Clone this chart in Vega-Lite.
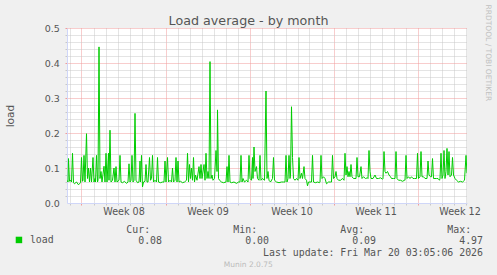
{
  "$schema": "https://vega.github.io/schema/vega-lite/v6.json",
  "width": 400,
  "height": 175,
  "autosize": "none",
  "padding": {"left": 67, "top": 28, "right": 30, "bottom": 72},
  "background": "#F0F0F0",
  "config": {
    "view": {"fill": "#FFFFFF", "stroke": null},
    "axis": {"labelFont": "DejaVu Sans", "titleFont": "DejaVu Sans", "labelColor": "#555555", "titleColor": "#555555", "titleFontWeight": "normal"}
  },
  "data": {"values": [
    {"h": -29, "v": 0.065}, {"h": -27, "v": 0.06}, {"h": -26, "v": 0.127}, {"h": -24, "v": 0.062}, {"h": -22, "v": 0.065},
    {"h": -20, "v": 0.06}, {"h": -18, "v": 0.142}, {"h": -16, "v": 0.058}, {"h": -14, "v": 0.055}, {"h": -10, "v": 0.06},
    {"h": -6, "v": 0.052}, {"h": -2, "v": 0.058}, {"h": 0, "v": 0.13}, {"h": 2, "v": 0.062}, {"h": 3, "v": 0.065},
    {"h": 5, "v": 0.136}, {"h": 7, "v": 0.06}, {"h": 10, "v": 0.198}, {"h": 12, "v": 0.07}, {"h": 14, "v": 0.1},
    {"h": 16, "v": 0.06}, {"h": 18, "v": 0.1}, {"h": 20, "v": 0.06}, {"h": 23, "v": 0.13}, {"h": 25, "v": 0.06},
    {"h": 27, "v": 0.07}, {"h": 28, "v": 0.06}, {"h": 30, "v": 0.136}, {"h": 32, "v": 0.06}, {"h": 33, "v": 0.065},
    {"h": 35, "v": 0.446}, {"h": 37, "v": 0.07}, {"h": 39, "v": 0.09}, {"h": 41, "v": 0.06}, {"h": 45, "v": 0.105},
    {"h": 47, "v": 0.06}, {"h": 49, "v": 0.142}, {"h": 51, "v": 0.06}, {"h": 54, "v": 0.142}, {"h": 55, "v": 0.065},
    {"h": 57, "v": 0.208}, {"h": 59, "v": 0.06}, {"h": 62, "v": 0.065}, {"h": 65, "v": 0.1}, {"h": 67, "v": 0.06},
    {"h": 69, "v": 0.104}, {"h": 71, "v": 0.06}, {"h": 75, "v": 0.065}, {"h": 77, "v": 0.136}, {"h": 79, "v": 0.06},
    {"h": 82, "v": 0.058}, {"h": 86, "v": 0.062}, {"h": 90, "v": 0.056}, {"h": 93, "v": 0.06}, {"h": 95, "v": 0.112},
    {"h": 97, "v": 0.06}, {"h": 99, "v": 0.065}, {"h": 101, "v": 0.136}, {"h": 103, "v": 0.06}, {"h": 105, "v": 0.065},
    {"h": 107, "v": 0.256}, {"h": 109, "v": 0.065}, {"h": 112, "v": 0.058}, {"h": 115, "v": 0.06}, {"h": 117, "v": 0.12},
    {"h": 118, "v": 0.06}, {"h": 120, "v": 0.136}, {"h": 122, "v": 0.046}, {"h": 124, "v": 0.06}, {"h": 127, "v": 0.062},
    {"h": 129, "v": 0.11}, {"h": 131, "v": 0.06}, {"h": 133, "v": 0.06}, {"h": 136, "v": 0.13}, {"h": 138, "v": 0.065},
    {"h": 140, "v": 0.07}, {"h": 142, "v": 0.136}, {"h": 144, "v": 0.06}, {"h": 147, "v": 0.065}, {"h": 150, "v": 0.06},
    {"h": 152, "v": 0.13}, {"h": 154, "v": 0.06}, {"h": 158, "v": 0.058}, {"h": 162, "v": 0.06}, {"h": 165, "v": 0.06},
    {"h": 167, "v": 0.12}, {"h": 169, "v": 0.06}, {"h": 172, "v": 0.13}, {"h": 174, "v": 0.06}, {"h": 177, "v": 0.065},
    {"h": 180, "v": 0.06}, {"h": 182, "v": 0.1}, {"h": 184, "v": 0.06}, {"h": 187, "v": 0.065}, {"h": 189, "v": 0.13},
    {"h": 191, "v": 0.06}, {"h": 193, "v": 0.12}, {"h": 195, "v": 0.06}, {"h": 198, "v": 0.062}, {"h": 202, "v": 0.058},
    {"h": 206, "v": 0.06}, {"h": 210, "v": 0.065}, {"h": 212, "v": 0.142}, {"h": 214, "v": 0.06}, {"h": 216, "v": 0.11},
    {"h": 218, "v": 0.07}, {"h": 220, "v": 0.1}, {"h": 222, "v": 0.065}, {"h": 224, "v": 0.13}, {"h": 226, "v": 0.06},
    {"h": 228, "v": 0.08}, {"h": 231, "v": 0.065}, {"h": 235, "v": 0.104}, {"h": 237, "v": 0.07}, {"h": 239, "v": 0.11},
    {"h": 241, "v": 0.07}, {"h": 245, "v": 0.11}, {"h": 247, "v": 0.065}, {"h": 249, "v": 0.142}, {"h": 251, "v": 0.07},
    {"h": 253, "v": 0.09}, {"h": 255, "v": 0.07}, {"h": 257, "v": 0.404}, {"h": 259, "v": 0.07}, {"h": 261, "v": 0.08},
    {"h": 263, "v": 0.065}, {"h": 266, "v": 0.07}, {"h": 269, "v": 0.15}, {"h": 271, "v": 0.09}, {"h": 272, "v": 0.266},
    {"h": 274, "v": 0.07}, {"h": 276, "v": 0.065}, {"h": 280, "v": 0.06}, {"h": 284, "v": 0.058}, {"h": 289, "v": 0.06},
    {"h": 291, "v": 0.104}, {"h": 293, "v": 0.06}, {"h": 295, "v": 0.136}, {"h": 297, "v": 0.06}, {"h": 300, "v": 0.058},
    {"h": 305, "v": 0.06}, {"h": 310, "v": 0.056}, {"h": 314, "v": 0.06}, {"h": 317, "v": 0.06}, {"h": 319, "v": 0.136},
    {"h": 321, "v": 0.06}, {"h": 323, "v": 0.07}, {"h": 326, "v": 0.06}, {"h": 330, "v": 0.065}, {"h": 333, "v": 0.06},
    {"h": 335, "v": 0.136}, {"h": 337, "v": 0.07}, {"h": 340, "v": 0.065}, {"h": 342, "v": 0.13}, {"h": 343, "v": 0.07},
    {"h": 345, "v": 0.16}, {"h": 347, "v": 0.09}, {"h": 350, "v": 0.104}, {"h": 352, "v": 0.07}, {"h": 355, "v": 0.065},
    {"h": 357, "v": 0.136}, {"h": 359, "v": 0.065}, {"h": 362, "v": 0.07}, {"h": 366, "v": 0.065}, {"h": 369, "v": 0.32},
    {"h": 371, "v": 0.07}, {"h": 373, "v": 0.09}, {"h": 375, "v": 0.065}, {"h": 378, "v": 0.06}, {"h": 382, "v": 0.07},
    {"h": 384, "v": 0.13}, {"h": 386, "v": 0.065}, {"h": 390, "v": 0.06}, {"h": 395, "v": 0.058}, {"h": 400, "v": 0.06},
    {"h": 404, "v": 0.06}, {"h": 407, "v": 0.06}, {"h": 409, "v": 0.136}, {"h": 411, "v": 0.06}, {"h": 413, "v": 0.07},
    {"h": 415, "v": 0.136}, {"h": 417, "v": 0.07}, {"h": 418, "v": 0.08}, {"h": 420, "v": 0.275}, {"h": 422, "v": 0.13},
    {"h": 424, "v": 0.07}, {"h": 427, "v": 0.065}, {"h": 430, "v": 0.07}, {"h": 433, "v": 0.065}, {"h": 435, "v": 0.13},
    {"h": 437, "v": 0.07}, {"h": 440, "v": 0.085}, {"h": 442, "v": 0.07}, {"h": 445, "v": 0.104}, {"h": 447, "v": 0.07},
    {"h": 450, "v": 0.065}, {"h": 452, "v": 0.049}, {"h": 454, "v": 0.06}, {"h": 457, "v": 0.06}, {"h": 460, "v": 0.06},
    {"h": 462, "v": 0.136}, {"h": 464, "v": 0.06}, {"h": 468, "v": 0.058}, {"h": 472, "v": 0.06}, {"h": 476, "v": 0.058},
    {"h": 477, "v": 0.06}, {"h": 479, "v": 0.136}, {"h": 481, "v": 0.07}, {"h": 484, "v": 0.075}, {"h": 487, "v": 0.07},
    {"h": 490, "v": 0.055}, {"h": 494, "v": 0.06}, {"h": 498, "v": 0.06}, {"h": 500, "v": 0.06}, {"h": 502, "v": 0.136},
    {"h": 504, "v": 0.07}, {"h": 507, "v": 0.075}, {"h": 509, "v": 0.09}, {"h": 511, "v": 0.07}, {"h": 514, "v": 0.065},
    {"h": 518, "v": 0.065}, {"h": 522, "v": 0.07}, {"h": 525, "v": 0.065}, {"h": 527, "v": 0.142}, {"h": 529, "v": 0.08},
    {"h": 531, "v": 0.104}, {"h": 533, "v": 0.075}, {"h": 535, "v": 0.09}, {"h": 537, "v": 0.075}, {"h": 539, "v": 0.11},
    {"h": 541, "v": 0.075}, {"h": 544, "v": 0.07}, {"h": 549, "v": 0.07}, {"h": 551, "v": 0.13}, {"h": 553, "v": 0.075},
    {"h": 556, "v": 0.075}, {"h": 559, "v": 0.104}, {"h": 561, "v": 0.07}, {"h": 564, "v": 0.075}, {"h": 568, "v": 0.07},
    {"h": 572, "v": 0.072}, {"h": 573, "v": 0.07}, {"h": 575, "v": 0.15}, {"h": 577, "v": 0.09}, {"h": 579, "v": 0.07},
    {"h": 583, "v": 0.07}, {"h": 587, "v": 0.08}, {"h": 590, "v": 0.07}, {"h": 594, "v": 0.07}, {"h": 598, "v": 0.072},
    {"h": 602, "v": 0.068}, {"h": 603, "v": 0.07}, {"h": 605, "v": 0.147}, {"h": 607, "v": 0.09}, {"h": 609, "v": 0.085},
    {"h": 612, "v": 0.09}, {"h": 615, "v": 0.08}, {"h": 618, "v": 0.075}, {"h": 620, "v": 0.07}, {"h": 624, "v": 0.07},
    {"h": 627, "v": 0.07}, {"h": 629, "v": 0.147}, {"h": 631, "v": 0.07}, {"h": 634, "v": 0.065}, {"h": 638, "v": 0.065},
    {"h": 642, "v": 0.062}, {"h": 646, "v": 0.065}, {"h": 647, "v": 0.065}, {"h": 649, "v": 0.136}, {"h": 651, "v": 0.07},
    {"h": 654, "v": 0.075}, {"h": 657, "v": 0.07}, {"h": 660, "v": 0.075}, {"h": 663, "v": 0.07}, {"h": 666, "v": 0.07},
    {"h": 670, "v": 0.07}, {"h": 672, "v": 0.142}, {"h": 674, "v": 0.07}, {"h": 677, "v": 0.075}, {"h": 679, "v": 0.147},
    {"h": 681, "v": 0.075}, {"h": 684, "v": 0.075}, {"h": 687, "v": 0.07}, {"h": 691, "v": 0.07}, {"h": 693, "v": 0.12},
    {"h": 695, "v": 0.08}, {"h": 698, "v": 0.075}, {"h": 700, "v": 0.075}, {"h": 702, "v": 0.127}, {"h": 704, "v": 0.07},
    {"h": 707, "v": 0.07}, {"h": 710, "v": 0.07}, {"h": 713, "v": 0.07}, {"h": 716, "v": 0.065}, {"h": 717, "v": 0.07},
    {"h": 719, "v": 0.142}, {"h": 721, "v": 0.07}, {"h": 723, "v": 0.08}, {"h": 725, "v": 0.15}, {"h": 727, "v": 0.07},
    {"h": 729, "v": 0.09}, {"h": 731, "v": 0.156}, {"h": 733, "v": 0.08}, {"h": 735, "v": 0.147}, {"h": 737, "v": 0.075},
    {"h": 740, "v": 0.08}, {"h": 742, "v": 0.13}, {"h": 744, "v": 0.08}, {"h": 747, "v": 0.07}, {"h": 750, "v": 0.065},
    {"h": 754, "v": 0.06}, {"h": 758, "v": 0.062}, {"h": 762, "v": 0.06}, {"h": 766, "v": 0.065}, {"h": 769, "v": 0.136},
    {"h": 771, "v": 0.085}
  ]},
  "resolve": {"axis": {"x": "independent", "y": "independent"}},
  "layer": [
    {
      "mark": {"type": "line", "strokeOpacity": 0},
      "encoding": {
        "x": {"field": "h", "type": "quantitative", "scale": {"domain": [-29, 771], "nice": false, "zero": false},
          "axis": {"orient": "bottom", "values": [-24,24,48,72,96,120,144,192,216,240,264,288,312,360,384,408,432,456,480,528,552,576,600,624,648,696,720,744,768],
            "grid": true, "gridColor": "#C8C8C8", "gridDash": [1, 1], "gridWidth": 1, "ticks": true, "tickSize": 2, "tickColor": "#C8C8C8",
            "labels": false, "domain": false,
            "title": "Munin 2.0.75", "titleX": 180.8, "titleY": 63.7, "titleAlign": "center", "titleBaseline": "alphabetic",
            "titleFontSize": 7.5, "titleColor": "#BBBBBB", "titleFont": "DejaVu Sans"}},
        "y": {"field": "v", "type": "quantitative", "scale": {"domain": [0, 0.5], "nice": false, "zero": true},
          "axis": {"orient": "left", "values": [0.02,0.04,0.06,0.08,0.12,0.14,0.16,0.18,0.22,0.24,0.26,0.28,0.32,0.34,0.36,0.38,0.42,0.44,0.46,0.48],
            "grid": true, "gridColor": "#C8C8C8", "gridDash": [1, 1], "gridWidth": 1, "ticks": true, "tickSize": 2, "tickColor": "#C8C8C8",
            "labels": false, "domain": false,
            "title": "RRDTOOL / TOBI OETIKER", "titleX": 420.5, "titleY": -24, "titleAngle": 90, "titleAlign": "left", "titleBaseline": "middle",
            "titleFontSize": 7.5, "titleColor": "#C0C0C0", "titleFont": "DejaVu Sans"}}
      }
    },
    {
      "mark": {"type": "line", "strokeOpacity": 0},
      "encoding": {
        "x": {"field": "h", "type": "quantitative",
          "axis": {"orient": "bottom", "values": [0, 168, 336, 504, 672],
            "grid": true, "gridColor": "#F09A9A", "gridDash": [1, 1], "gridWidth": 1, "ticks": true, "tickSize": 2, "tickColor": "#F09A9A",
            "labels": false, "domain": false,
            "title": "Load average - by month", "titleX": 181, "titleY": -178.7, "titleAlign": "center", "titleBaseline": "alphabetic",
            "titleFontSize": 12.7, "titleColor": "#555555", "titleFont": "DejaVu Sans"}},
        "y": {"field": "v", "type": "quantitative",
          "axis": {"orient": "left", "values": [0.1, 0.2, 0.3, 0.4, 0.5],
            "grid": true, "gridColor": "#F09A9A", "gridDash": [1, 1], "gridWidth": 1, "ticks": true, "tickSize": 2, "tickColor": "#F09A9A",
            "labels": false, "domain": false, "title": null}}
      }
    },
    {
      "mark": {"type": "line", "strokeWidth": 1, "clip": true},
      "encoding": {
        "x": {"field": "h", "type": "quantitative",
          "axis": {"orient": "bottom", "values": [84, 252, 420, 588, 756],
            "labelExpr": "'Week ' + format(8 + floor(datum.value / 168), '02d')",
            "grid": false, "ticks": false, "tickSize": 0, "labelPadding": 3, "labelFontSize": 9.6, "labelBaseline": "top",
            "domain": true, "domainColor": "#CFD6F8", "domainWidth": 1,
            "title": ["Cur:\u00a0\u00a0\u00a0\u00a0\u00a0\u00a0\u00a0\u00a0\u00a0\u00a0\u00a0\u00a0\u00a0\u00a0Min:\u00a0\u00a0\u00a0\u00a0\u00a0\u00a0\u00a0\u00a0\u00a0\u00a0\u00a0\u00a0\u00a0\u00a0Avg:\u00a0\u00a0\u00a0\u00a0\u00a0\u00a0\u00a0\u00a0\u00a0\u00a0\u00a0\u00a0\u00a0\u00a0Max:",
                      "\u200b\u00a0\u00a00.08\u00a0\u00a0\u00a0\u00a0\u00a0\u00a0\u00a0\u00a0\u00a0\u00a0\u00a0\u00a0\u00a0\u00a00.00\u00a0\u00a0\u00a0\u00a0\u00a0\u00a0\u00a0\u00a0\u00a0\u00a0\u00a0\u00a0\u00a0\u00a00.09\u00a0\u00a0\u00a0\u00a0\u00a0\u00a0\u00a0\u00a0\u00a0\u00a0\u00a0\u00a0\u00a0\u00a04.97",
                      "\u200b\u00a0\u00a0\u00a0\u00a0\u00a0\u00a0\u00a0\u00a0\u00a0\u00a0\u00a0\u00a0\u00a0\u00a0\u00a0\u00a0\u00a0\u00a0\u00a0\u00a0\u00a0\u00a0\u00a0Last update: Fri Mar 20 03:05:06 2026"],
            "titleX": 58.8, "titleY": 29, "titleAlign": "left", "titleBaseline": "alphabetic", "titleLineHeight": 11.8,
            "titleFont": "DejaVu Sans Mono", "titleFontSize": 9.9, "titleColor": "#555555"}},
        "y": {"field": "v", "type": "quantitative",
          "axis": {"orient": "left", "values": [0, 0.1, 0.2, 0.3, 0.4, 0.5], "format": ".1f",
            "grid": false, "ticks": false, "tickSize": 0, "labelPadding": 7.7, "labelFontSize": 9.5,
            "domain": true, "domainColor": "#CFD6F8", "domainWidth": 1,
            "title": "load", "titleX": -57, "titleY": 87.5, "titleAngle": 270, "titleAlign": "center", "titleBaseline": "middle",
            "titleFontSize": 10.6, "titleColor": "#555555", "titleFont": "DejaVu Sans"}},
        "color": {"datum": "load", "type": "nominal", "scale": {"range": ["#00CC00"]},
          "legend": {"orient": "none", "legendX": -53, "legendY": 207, "title": null, "padding": 0,
            "symbolType": "square", "symbolSize": 42, "symbolFillColor": "#00CC00", "symbolStrokeColor": "#00CC00", "symbolStrokeWidth": 0,
            "labelFont": "DejaVu Sans Mono", "labelFontSize": 9.9, "labelColor": "#555555", "labelOffset": 6}}
      }
    }
  ]
}
